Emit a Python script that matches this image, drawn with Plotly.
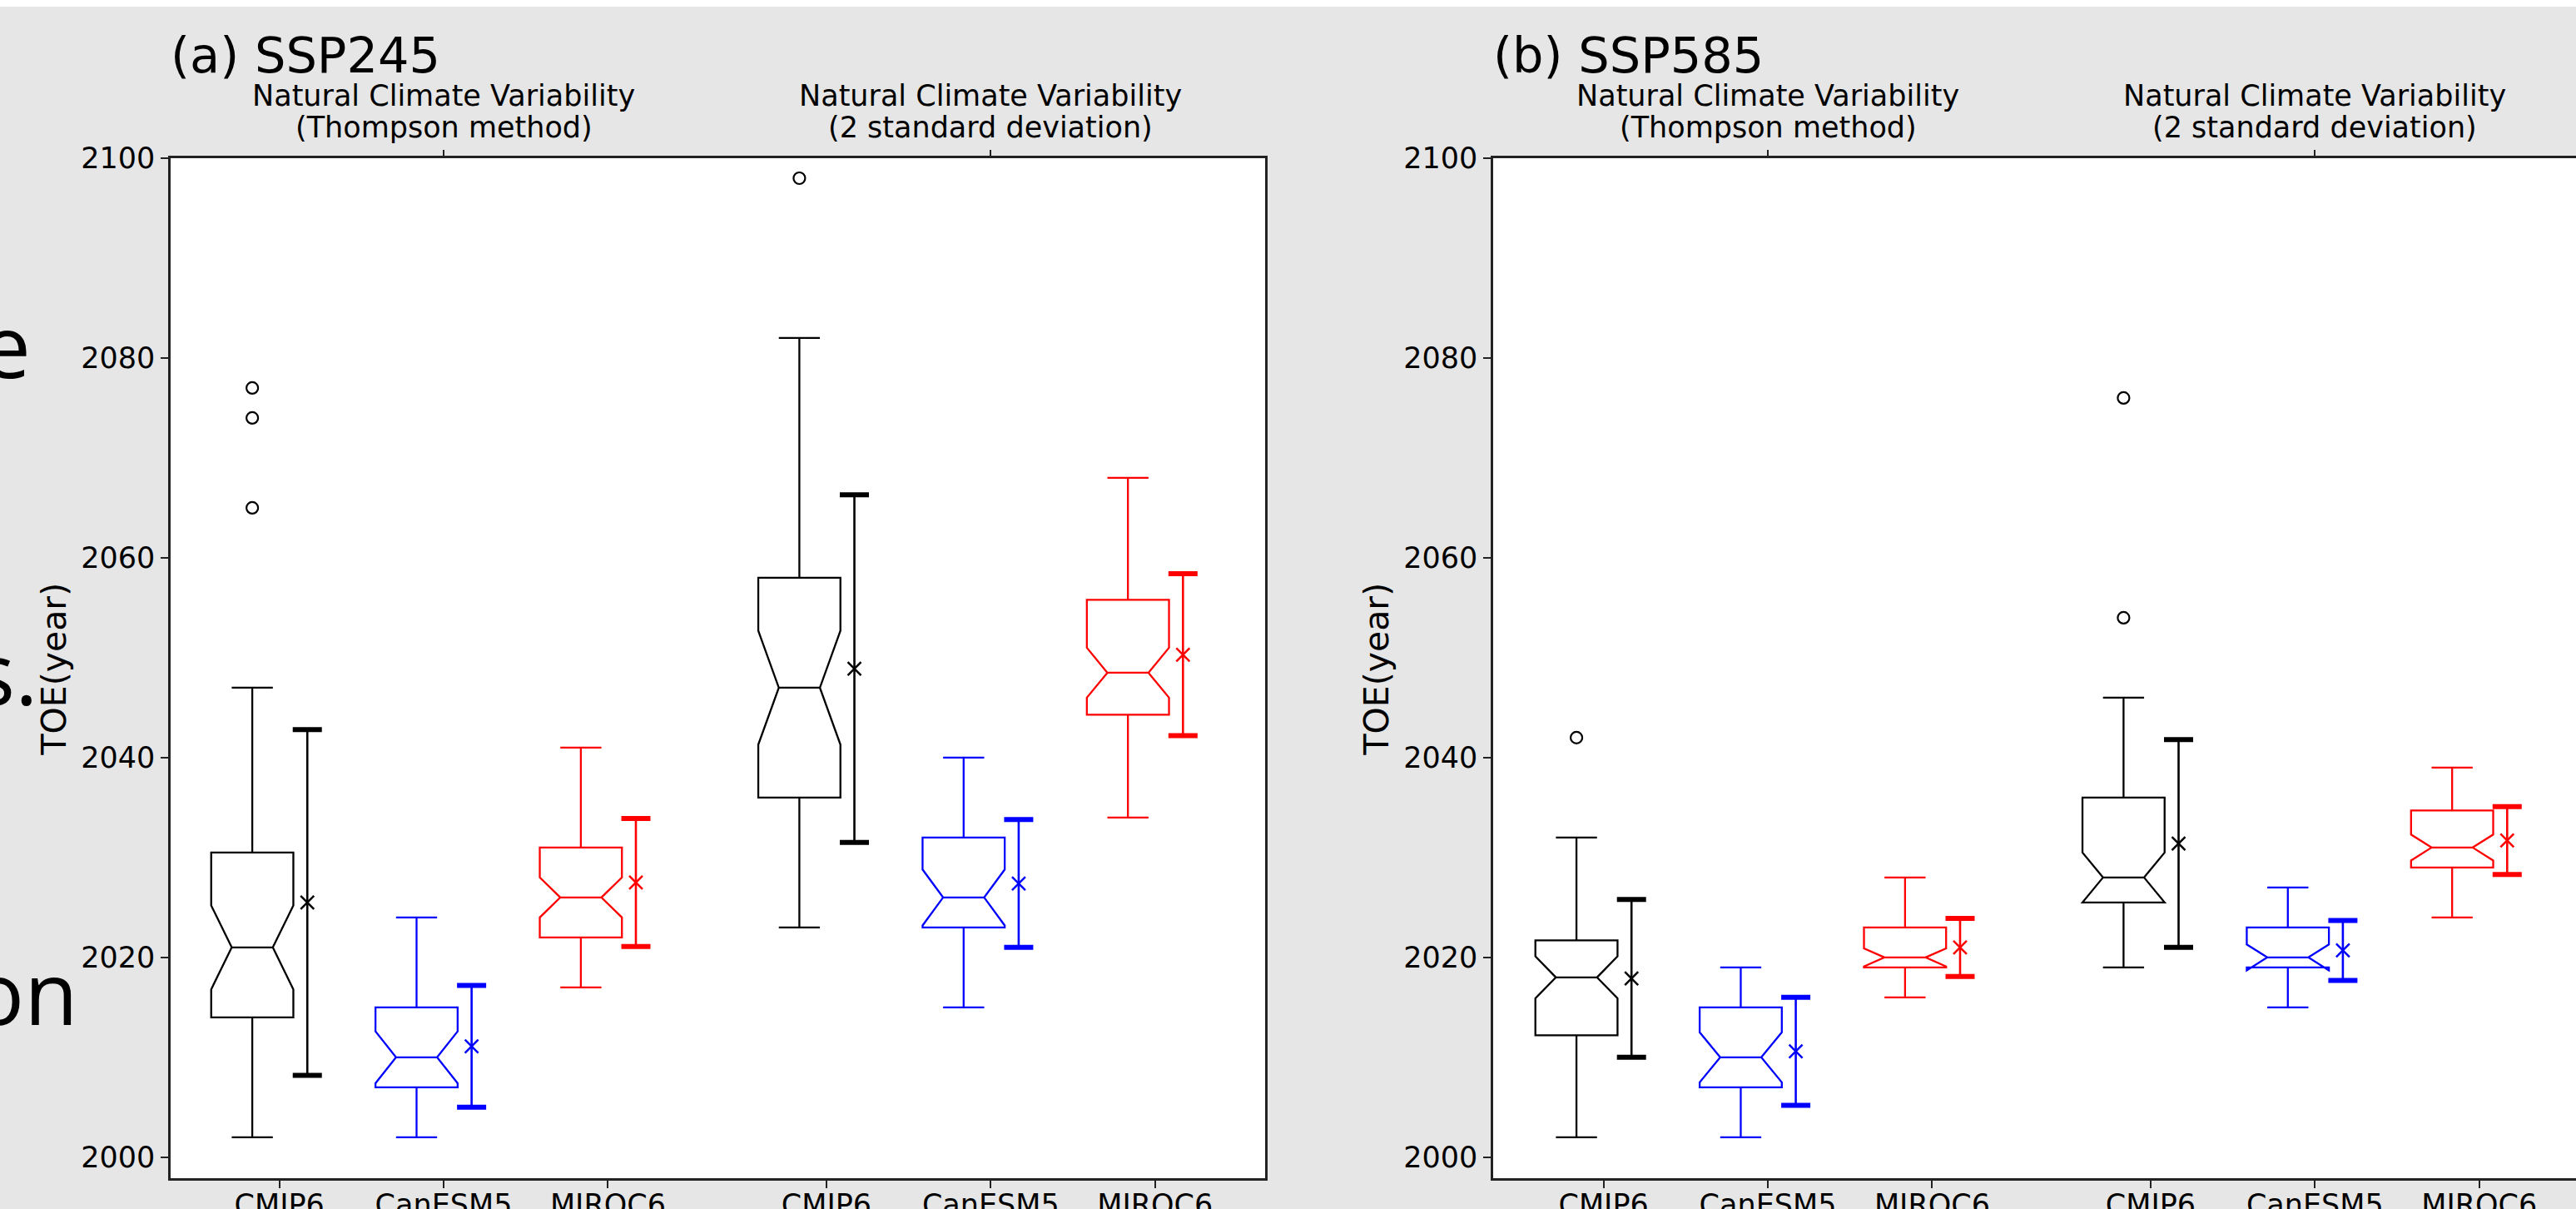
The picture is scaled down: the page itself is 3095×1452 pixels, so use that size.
import plotly.graph_objects as go

W, H = 3095, 1452

# ---------------- data ----------------
models = ["CMIP6", "CanESM5", "MIROC6"]
model_colors = ["#000000", "#0000ff", "#ff0000"]
methods = [("Natural Climate Variability", "(Thompson method)"),
           ("Natural Climate Variability", "(2 standard deviation)")]
positions = [1, 2, 3, 4.33, 5.33, 6.33]
method_centers = [2, 5.33]
y_ticks = [2000, 2020, 2040, 2060, 2080, 2100]
panel_titles = ["(a) SSP245", "(b) SSP585"]
y_label = "TOE(year)"
slide_text = ["e", "s.", "on"]

# order: Thompson (CMIP6, CanESM5, MIROC6), 2 s.d. (CMIP6, CanESM5, MIROC6)
ssp245_q1 = [2014, 2007, 2022, 2036, 2023, 2044.3]
ssp245_med = [2021, 2010, 2026, 2047, 2026, 2048.5]
ssp245_q3 = [2030.5, 2015, 2031, 2058, 2032, 2055.8]
ssp245_lo = [2002, 2002, 2017, 2023, 2015, 2034]
ssp245_hi = [2047, 2024, 2041, 2082, 2040, 2068]
ssp245_notch = [4.2, 2.6, 2.0, 5.7, 2.8, 2.5]
ssp245_mean = [2025.5, 2011.1, 2027.5, 2048.9, 2027.4, 2050.3]
ssp245_std = [17.3, 6.1, 6.4, 17.4, 6.4, 8.1]
ssp245_outliers = [[2065, 2074, 2077], [], [], [2098], [], []]

ssp585_q1 = [2012.2, 2007, 2019, 2025.5, 2019, 2029]
ssp585_med = [2018, 2010, 2020, 2028, 2020, 2031]
ssp585_q3 = [2021.7, 2015, 2023, 2036, 2023, 2034.7]
ssp585_lo = [2002, 2002, 2016, 2019, 2015, 2024]
ssp585_hi = [2032, 2019, 2028, 2046, 2027, 2039]
ssp585_notch = [2.1, 2.5, 0.9, 2.5, 1.3, 1.3]
ssp585_mean = [2017.9, 2010.6, 2021.0, 2031.4, 2020.7, 2031.7]
ssp585_std = [7.9, 5.4, 2.9, 10.4, 3.0, 3.4]
ssp585_outliers = [[2042], [], [], [2054, 2076], [], []]

panels = [
    dict(q1=ssp245_q1, med=ssp245_med, q3=ssp245_q3, lo=ssp245_lo, hi=ssp245_hi,
         notch=ssp245_notch, mean=ssp245_mean, std=ssp245_std, out=ssp245_outliers),
    dict(q1=ssp585_q1, med=ssp585_med, q3=ssp585_q3, lo=ssp585_lo, hi=ssp585_hi,
         notch=ssp585_notch, mean=ssp585_mean, std=ssp585_std, out=ssp585_outliers),
]

# ---------------- style ----------------
box_offset = -0.165
err_offset = 0.17
FONT = "DejaVu Sans"
AX = "#222222"

fig = go.Figure()

for p, pan in enumerate(panels):
    xa = "x" if p == 0 else "x2"
    ya = "y" if p == 0 else "y2"
    for m, col in enumerate(model_colors):
        idx = [m, m + 3]
        xb = [positions[i] + box_offset for i in idx]
        xe = [positions[i] + err_offset for i in idx]
        fig.add_trace(go.Box(
            x=xb, orientation="v",
            q1=[pan["q1"][i] for i in idx],
            median=[pan["med"][i] for i in idx],
            q3=[pan["q3"][i] for i in idx],
            lowerfence=[pan["lo"][i] for i in idx],
            upperfence=[pan["hi"][i] for i in idx],
            notchspan=[pan["notch"][i] for i in idx],
            notched=True, notchwidth=0.25, width=0.5, whiskerwidth=0.5,
            boxpoints=False, line=dict(color=col, width=2.3),
            fillcolor="rgba(0,0,0,0)", hoverinfo="skip",
            xaxis=xa, yaxis=ya))
        # outliers
        ox, oy = [], []
        for i in idx:
            for v in pan["out"][i]:
                ox.append(positions[i] + box_offset)
                oy.append(v)
        if ox:
            fig.add_trace(go.Scatter(
                x=ox, y=oy, mode="markers",
                marker=dict(symbol="circle-open", size=14, color=col, line=dict(color=col, width=2.2)),
                hoverinfo="skip", xaxis=xa, yaxis=ya))
        means = [pan["mean"][i] for i in idx]
        stds = [pan["std"][i] for i in idx]
        # mean +- std bar
        fig.add_trace(go.Scatter(
            x=xe, y=means, mode="markers",
            marker=dict(symbol="x-thin", size=16, color=col, line=dict(color=col, width=2.5)),
            error_y=dict(type="data", array=stds, color=col, thickness=2.6, width=0),
            hoverinfo="skip", xaxis=xa, yaxis=ya))
        # bold caps
        fig.add_trace(go.Scatter(
            x=xe + xe, y=[mu + s for mu, s in zip(means, stds)] + [mu - s for mu, s in zip(means, stds)],
            mode="markers",
            marker=dict(symbol="line-ew", size=25, color=col, line=dict(color=col, width=6)),
            hoverinfo="skip", xaxis=xa, yaxis=ya))
    # invisible trace so the top axis is drawn
    fig.add_trace(go.Scatter(x=method_centers, y=[2100, 2100], mode="markers",
                             marker=dict(opacity=0), hoverinfo="skip",
                             xaxis="x3" if p == 0 else "x4", yaxis=ya))

ydom = [1 - 1415 / H, 1 - 190 / H]
xdom_a = [205 / W, 1520 / W]
xdom_b = [1794 / W, 1.0]
xr_a = [0.338, 7.0]
xr_b = [0.328, 6.919]

common_x = dict(tickmode="array", tickvals=positions, ticktext=models * 2,
                ticks="outside", ticklen=9, tickwidth=1.5, tickcolor=AX, ticklabelstandoff=-10,
                showline=True, linecolor=AX, linewidth=2.5, mirror=True, automargin=False,
                showgrid=False, zeroline=False, tickfont=dict(size=35, family=FONT, color="black"))
common_y = dict(range=[1997.9, 2100], tickmode="array", tickvals=y_ticks,
                ticks="outside", ticklen=9, tickwidth=1.5, tickcolor=AX,
                showline=True, linecolor=AX, linewidth=2.5, automargin=False,
                showgrid=False, zeroline=False, domain=ydom,
                tickfont=dict(size=35, family=FONT, color="black"))
common_top = dict(side="top", tickmode="array", tickvals=method_centers, showticklabels=False,
                  ticks="outside", ticklen=9, tickwidth=1.5, tickcolor=AX, automargin=False,
                  showline=False, showgrid=False, zeroline=False)

fig.update_layout(
    width=W, height=H, margin=dict(l=0, r=0, t=0, b=0, pad=0, autoexpand=False),
    paper_bgcolor="#e6e6e6", plot_bgcolor="white", showlegend=False,
    boxmode="overlay", font=dict(family=FONT, size=35, color="black"),
    xaxis=dict(domain=xdom_a, range=xr_a, anchor="y", **common_x),
    yaxis=dict(anchor="x", mirror=True, **common_y),
    xaxis2=dict(domain=xdom_b, range=xr_b, anchor="y2", **common_x),
    yaxis2=dict(anchor="x2", mirror=False, **common_y),
    xaxis3=dict(overlaying="x", range=xr_a, anchor="y", **common_top),
    xaxis4=dict(overlaying="x2", range=xr_b, anchor="y2", **common_top),
)

annotations = []
plot_left = [205, 1794]
for p in range(2):
    annotations.append(dict(text=panel_titles[p], xref="paper", yref="paper",
                            x=(plot_left[p] - 2) / W, y=1 - 66.7 / H, xanchor="left", yanchor="middle",
                            showarrow=False, font=dict(size=59, family=FONT, color="black")))
    annotations.append(dict(text=y_label, xref="paper", yref="paper", textangle=-90,
                            x=(plot_left[p] - 140.5) / W, y=1 - 804 / H, xanchor="center", yanchor="middle",
                            showarrow=False, font=dict(size=41, family=FONT, color="black")))
    # method labels above the top ticks (two lines each)
    xref = "x" if p == 0 else "x2"
    for c, (l1, l2) in zip(method_centers, methods):
        for txt, yc in ((l1, 115), (l2, 153)):
            annotations.append(dict(text=txt, xref=xref, yref="paper", x=c, y=1 - yc / H,
                                    xanchor="center", yanchor="middle", showarrow=False,
                                    font=dict(size=35, family=FONT, color="black")))
# fragments of the slide text lying at the left border
slide_right = [39, 48, 96]
slide_center = [413, 806, 1190]
for t, xr, yc in zip(slide_text, slide_right, slide_center):
    annotations.append(dict(text=t, xref="paper", yref="paper", x=xr / W, y=1 - yc / H,
                            xanchor="right", yanchor="middle", showarrow=False,
                            font=dict(size=105, family="Open Sans", color="black")))
fig.update_layout(annotations=annotations)

fig.add_shape(type="rect", xref="paper", yref="paper", x0=0, x1=1, y0=1 - 8 / H, y1=1,
              fillcolor="white", line=dict(width=0), layer="above")

fig.write_html("out.html", config={"displayModeBar": False},
               post_script="document.body.style.margin='0';document.body.style.overflow='hidden';")
